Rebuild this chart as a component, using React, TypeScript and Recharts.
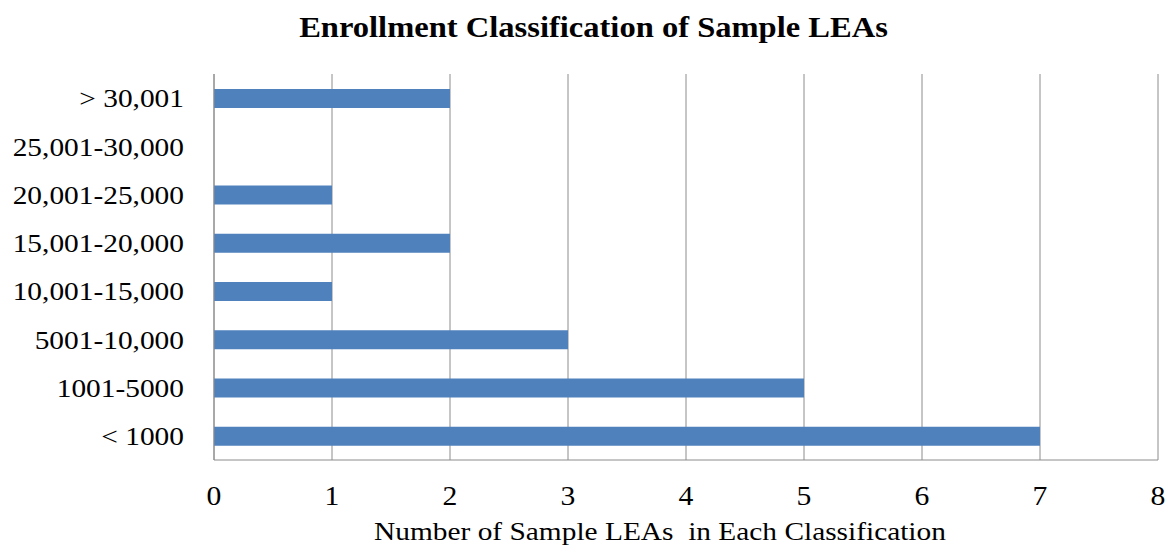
import React from "react";
import { BarChart, Bar, XAxis, YAxis, CartesianGrid, Label } from "recharts";

const categories = [
  "> 30,001",
  "25,001-30,000",
  "20,001-25,000",
  "15,001-20,000",
  "10,001-15,000",
  "5001-10,000",
  "1001-5000",
  "< 1000",
];
const counts = [2, 0, 1, 2, 1, 3, 5, 7];
const xTicks = [0, 1, 2, 3, 4, 5, 6, 7, 8];

const title = "Enrollment Classification of Sample LEAs";
const xTitle = "Number of Sample LEAs  in Each Classification";

const data = categories.map((c, i) => ({ range: c, count: counts[i] }));

const FONT = "'Liberation Serif', 'Times New Roman', serif";
const SX = 1.13;
const GRAY = "#8c8c8c";

const YTick = (props: any) => {
  const { x, y, payload } = props;
  return (
    <text
      transform={`translate(${x},${y}) scale(${SX},1)`}
      textAnchor="end"
      dy="0.355em"
      fontFamily={FONT}
      fontSize={26}
      fill="#000"
    >
      {payload.value}
    </text>
  );
};

const XTick = (props: any) => {
  const { x, y, payload } = props;
  return (
    <text
      transform={`translate(${x},${y}) scale(1.06,1)`}
      textAnchor="middle"
      dy="0.71em"
      fontFamily={FONT}
      fontSize={28}
      fill="#000"
    >
      {payload.value}
    </text>
  );
};

const XTitle = (props: any) => {
  const vb = props.viewBox || {};
  const cx = vb.x + vb.width / 2 - 26;
  const cy = 540;
  return (
    <text
      transform={`translate(${cx},${cy}) scale(${SX},1)`}
      textAnchor="middle"
      fontFamily={FONT}
      fontSize={26}
      fill="#000"
      style={{ whiteSpace: "pre" }}
    >
      {xTitle}
    </text>
  );
};

export default function App() {
  return (
    <div
      style={{
        position: "absolute",
        left: 0,
        top: 0,
        width: 1168,
        height: 546,
        background: "#fff",
      }}
    >
      <div
        style={{
          position: "absolute",
          left: 0,
          top: 10,
          width: 1168,
          textAlign: "center",
          fontFamily: FONT,
          fontWeight: "bold",
          fontSize: 28.8,
          lineHeight: "34px",
          color: "#000",
          paddingLeft: 20,
          boxSizing: "border-box",
        }}
      >
        <span style={{ display: "inline-block", transform: `scaleX(${SX})` }}>
          {title}
        </span>
      </div>
      <BarChart
        width={1168}
        height={546}
        data={data}
        layout="vertical"
        margin={{ top: 74, right: 10, bottom: 56, left: 0 }}
        barCategoryGap={0}
      >
        <CartesianGrid vertical={true} horizontal={false} stroke={GRAY} strokeWidth={1} />
        <XAxis
          type="number"
          domain={[0, 8]}
          ticks={xTicks}
          interval={0}
          height={30}
          tickLine={false}
          tickSize={0}
          tickMargin={25}
          axisLine={{ stroke: GRAY }}
          tick={<XTick />}
        >
          <Label content={<XTitle />} />
        </XAxis>
        <YAxis
          type="category"
          dataKey="range"
          width={214}
          tickLine={false}
          tickSize={0}
          tickMargin={30}
          axisLine={{ stroke: GRAY }}
          tick={<YTick />}
          interval={0}
        />
        <Bar dataKey="count" fill="#4F81BD" barSize={19} isAnimationActive={false} />
      </BarChart>
    </div>
  );
}
